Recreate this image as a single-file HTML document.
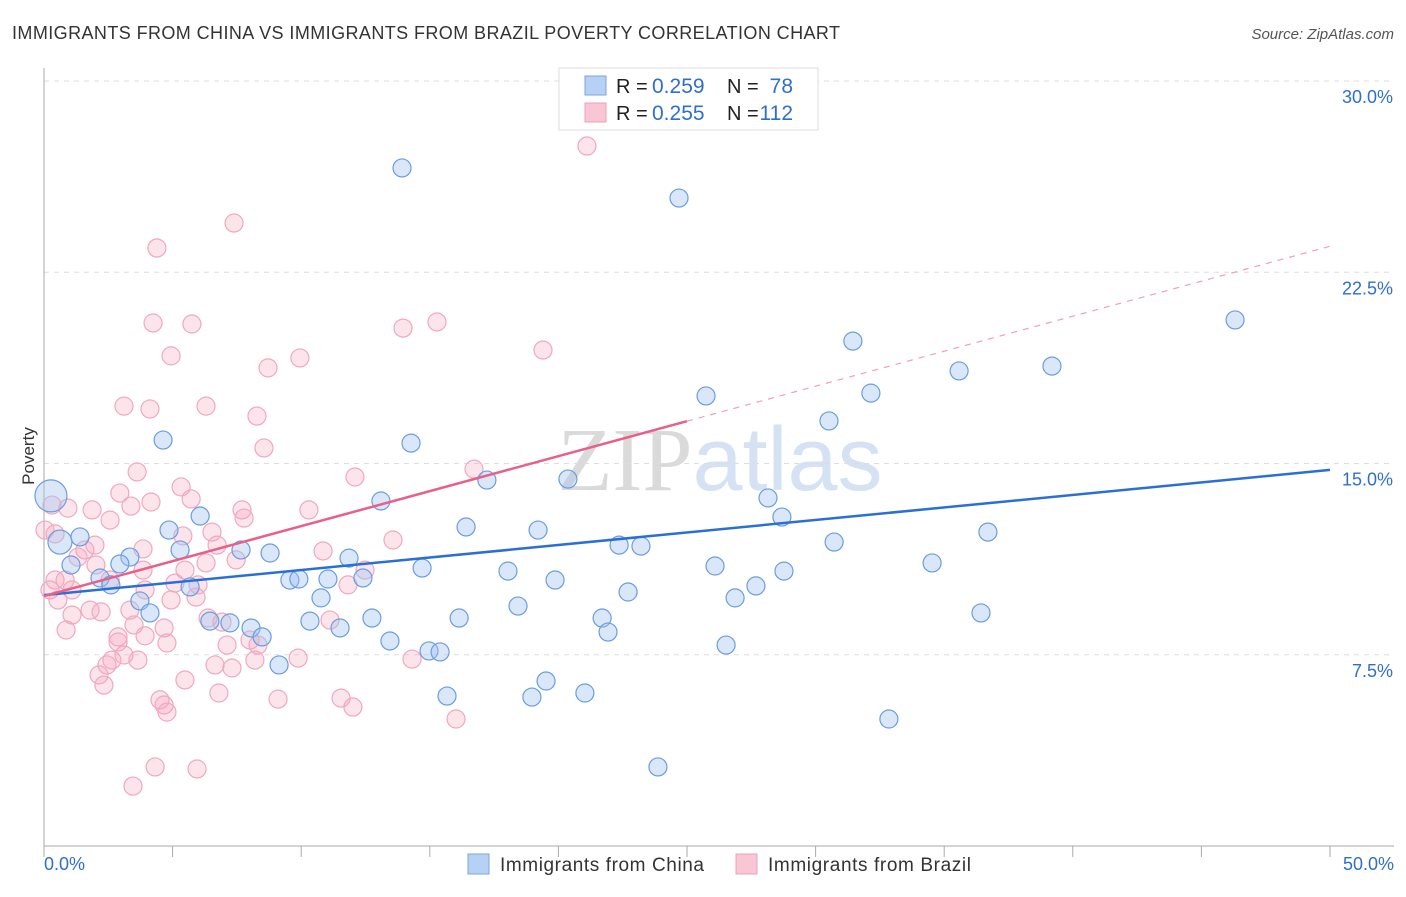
<!DOCTYPE html>
<html><head><meta charset="utf-8"><style>
body{margin:0;background:#fff;font-family:"Liberation Sans",sans-serif}
</style></head><body>
<svg id="chart" width="1406" height="892" xmlns="http://www.w3.org/2000/svg" style="font-family:'Liberation Sans',sans-serif">
<text x="12" y="39" font-size="18" fill="#333" textLength="828" lengthAdjust="spacing">IMMIGRANTS FROM CHINA VS IMMIGRANTS FROM BRAZIL POVERTY CORRELATION CHART</text>
<text x="1394" y="39" font-size="15" font-style="italic" fill="#555" text-anchor="end">Source: ZipAtlas.com</text>
<text x="720" y="490" font-size="90" fill="#e6e6e6" text-anchor="middle"><tspan font-family="Liberation Serif" fill="#dadada">ZIP</tspan><tspan fill="#d4e2f4">atlas</tspan></text>
<g id="grid"></g><g id="axes"></g><g id="pts"></g><g id="lines"></g>
<text transform="translate(34,456) rotate(-90)" font-size="17" fill="#333" text-anchor="middle">Poverty</text>
<g>
<rect x="559" y="68" width="259" height="62" fill="#fff" stroke="#ddd"/>
<rect x="585" y="76" width="21" height="19" fill="#b7d1f4" stroke="#7aa6e0"/>
<rect x="585" y="103" width="21" height="19" fill="#f8c6d5" stroke="#eea0b8"/>
<text x="616" y="93" font-size="20" fill="#222">R =</text>
<text x="652" y="93" font-size="21" fill="#2f6fcc">0.259</text>
<text x="727" y="93" font-size="20" fill="#222">N =</text>
<text x="793" y="93" font-size="21" fill="#2f6fcc" text-anchor="end">78</text>
<text x="616" y="120" font-size="20" fill="#222">R =</text>
<text x="652" y="120" font-size="21" fill="#2f6fcc">0.255</text>
<text x="727" y="120" font-size="20" fill="#222">N =</text>
<text x="793" y="120" font-size="21" fill="#2f6fcc" text-anchor="end">112</text>
</g>
<g>
<rect x="468" y="854" width="21" height="20" fill="#b7d1f4" stroke="#7aa6e0"/>
<text x="500" y="871" font-size="19" fill="#333" textLength="204">Immigrants from China</text>
<rect x="736" y="854" width="21" height="20" fill="#f8c6d5" stroke="#eea0b8"/>
<text x="768" y="871" font-size="19" fill="#333" textLength="203">Immigrants from Brazil</text>
</g>
<text x="44" y="870" font-size="18" fill="#2f6fcc">0.0%</text>
<text x="1394" y="870" font-size="18" fill="#2f6fcc" text-anchor="end">50.0%</text>
</svg>
<script>
const chinaX=[13.92,24.69,46.31,31.45,39.19,35.58,25.74,32.15,30.52,4.63,14.27,17.22,20.37,0.27,13.10,28.15,6.07,28.69,16.41,19.21,4.86,36.70,1.40,0.62,30.72,22.36,23.21,5.29,7.66,8.79,3.34,11.86,1.05,2.95,14.70,26.09,18.04,34.53,28.77,11.04,9.56,9.91,19.87,12.40,2.18,2.60,5.68,27.68,22.71,10.77,26.87,3.73,18.43,4.12,36.43,12.75,16.14,21.70,10.34,6.45,7.23,11.51,8.05,21.93,8.48,13.45,26.52,14.97,15.40,9.14,19.52,15.67,21.03,18.97,32.85,23.87];
const chinaY=[26.59,25.41,20.63,19.80,18.82,18.63,17.65,17.76,16.67,15.92,15.80,14.35,14.39,13.73,13.53,13.65,12.94,12.90,12.51,12.39,12.39,12.31,12.12,11.92,11.92,11.80,11.76,11.61,11.61,11.49,11.33,11.29,11.02,11.06,10.90,10.98,10.78,11.10,10.78,10.47,10.43,10.47,10.43,10.51,10.51,10.24,10.16,10.20,9.96,9.73,9.73,9.61,9.41,9.14,9.14,8.94,8.94,8.94,8.82,8.82,8.75,8.55,8.55,8.39,8.20,8.04,7.88,7.65,7.61,7.10,6.47,5.88,6.00,5.84,4.98,3.10];
const chinaR=[9,9,9,9,9,9,9,9,9,9,9,9,9,16,9,9,9,9,9,9,9,9,9,12,9,9,9,9,9,9,9,9,9,9,9,9,9,9,9,9,9,9,9,9,9,9,9,9,9,9,9,9,9,9,9,9,9,9,9,9,9,9,9,9,9,9,9,9,9,9,9,9,9,9,9,9];
const brazilX=[21.11,7.39,4.39,4.24,5.75,15.28,13.96,19.40,4.94,9.95,8.71,3.11,6.30,4.12,8.28,8.55,3.62,16.72,12.09,2.95,5.33,4.16,5.72,0.31,0.93,1.87,2.57,3.38,7.70,7.78,10.30,6.53,13.57,0.04,0.43,5.40,6.73,10.85,3.85,1.98,1.59,1.32,2.02,3.85,5.48,6.30,7.47,12.48,0.43,0.82,2.57,5.99,3.93,5.09,11.82,0.23,1.09,0.54,1.79,2.22,3.34,4.94,5.91,6.38,6.92,0.86,1.09,4.67,3.50,2.88,3.93,11.12,4.78,7.12,8.20,3.11,3.65,2.64,2.45,9.88,6.65,7.31,14.31,2.14,2.33,5.48,6.80,9.10,4.51,4.67,11.55,12.01,4.78,16.02,4.32,5.95,3.46,2.88,8.01,8.32];
const brazilY=[27.45,24.43,23.45,20.51,20.47,20.55,20.31,19.45,19.22,19.14,18.75,17.25,17.25,17.14,16.86,15.61,14.67,14.78,14.47,13.84,14.08,13.49,13.61,13.37,13.25,13.18,12.78,13.33,13.18,12.86,13.18,12.31,12.00,12.39,12.24,12.16,11.80,11.57,11.65,11.80,11.61,11.33,11.02,10.82,10.82,11.10,11.22,10.82,10.43,10.43,10.43,10.24,10.04,10.31,10.24,10.04,10.04,9.65,9.25,9.18,9.25,9.65,9.76,8.94,8.78,8.47,9.06,8.55,8.67,8.20,8.24,8.86,7.96,7.88,7.29,7.49,7.29,7.29,7.10,7.37,7.10,6.98,7.33,6.71,6.31,6.51,6.00,5.76,5.73,5.53,5.80,5.45,5.25,4.98,3.10,3.02,2.35,8.00,8.08,7.88];
const chinaTrend=[9.84,14.75];
const brazilTrend=[9.80,0.2744];
const yTicks=[7.5,15,22.5,30];
const yTickLabels=["7.5%","15.0%","22.5%","30.0%"];
const xTicks=[0,5,10,15,20,25,30,35,40,45,50];

const NS="http://www.w3.org/2000/svg";
const X=v=>44+v*25.72, Y=v=>846-v*25.5;
function mk(tag,attrs,parent){const e=document.createElementNS(NS,tag);for(const k in attrs)e.setAttribute(k,attrs[k]);document.getElementById(parent).appendChild(e);return e;}
yTicks.forEach((t,i)=>{
 const g=mk('line',{x1:44,x2:1394,y1:Y(t),y2:Y(t),stroke:'#ddd','stroke-dasharray':'5,5'},'grid');
 
 
 const l=mk('text',{x:1393,y:Y(t)+22,'font-size':18,fill:'#2f6fcc','text-anchor':'end'},'grid');
 l.textContent=yTickLabels[i];
 
 
});
const ax=mk('line',{x1:44,x2:1394,y1:846,y2:846,stroke:'#aaa'},'axes');


const ay=mk('line',{x1:44,x2:44,y1:68,y2:846,stroke:'#aaa'},'axes');


xTicks.forEach(t=>{
 const tk=mk('line',{x1:X(t),x2:X(t),y1:846,y2:857,stroke:'#aaa'},'axes');
 
 
});
brazilX.forEach((v,i)=>{
 const c=mk('circle',{cx:X(v),cy:Y(brazilY[i]),r:9,fill:'rgba(245,165,190,0.3)',stroke:'#f0a8bf','stroke-width':1.2},'pts');
 
 
});
chinaX.forEach((v,i)=>{
 const c=mk('circle',{cx:X(v),cy:Y(chinaY[i]),r:chinaR[i],fill:'rgba(160,196,240,0.4)',stroke:'#6a9de0','stroke-width':1.2},'pts');
 
 
});
const bl=mk('line',{x1:X(0),y1:Y(chinaTrend[0]),x2:X(50),y2:Y(chinaTrend[1]),stroke:'#2a6fd6','stroke-width':2.5},'lines');


const pb=v=>brazilTrend[0]+brazilTrend[1]*v;
const pl=mk('line',{x1:X(0),y1:Y(pb(0)),x2:X(25),y2:Y(pb(25)),stroke:'#e8608a','stroke-width':2.5},'lines');


const pd=mk('line',{x1:X(25),y1:Y(pb(25)),x2:X(50),y2:Y(pb(50)),stroke:'#eea0b8','stroke-width':1.2,'stroke-dasharray':'6,6'},'lines');


</script>
</body></html>
